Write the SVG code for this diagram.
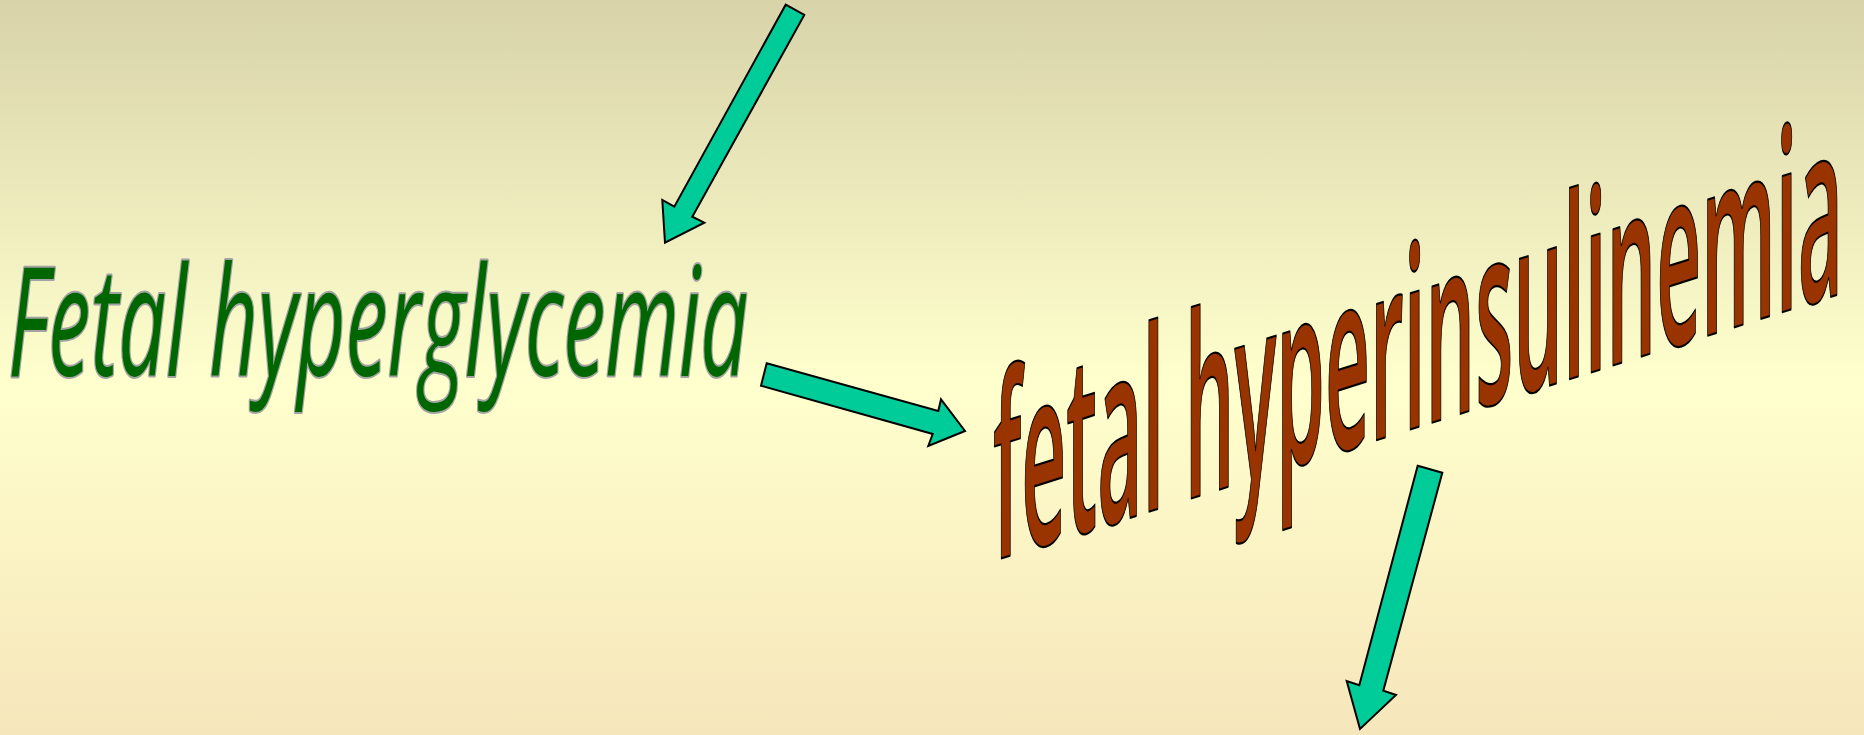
<svg xmlns="http://www.w3.org/2000/svg" width="1864" height="735" viewBox="0 0 1864 735">
  <defs>
    <linearGradient id="bg" x1="0" y1="0" x2="0" y2="1">
      <stop offset="0" stop-color="#d8d3a9"/>
      <stop offset="0.52" stop-color="#ffffcd"/>
      <stop offset="1" stop-color="#f6e6bb"/>
    </linearGradient>
  </defs>
  <style>
    .arrow { fill: #00cc99; stroke: #000000; stroke-width: 2; stroke-linejoin: miter; }
    .green { font-family: "Open Sans", "DejaVu Sans", sans-serif; font-style: italic; font-weight: 400; fill: #006600; stroke: #a3a3a3; stroke-width: 4; paint-order: stroke; stroke-linejoin: round; }
    .brown { font-family: "Open Sans", "DejaVu Sans", sans-serif; font-weight: 600; fill: #993300; stroke: #000000; stroke-width: 2.2; stroke-linejoin: round; }
  </style>
  <rect x="0" y="0" width="1864" height="735" fill="url(#bg)"/>

  <g id="connectors">
    <polygon class="arrow" points="785.7,4.7 804.3,15 692.3,216.7 704.3,222.7 665,242.7 662.3,200 674.3,206.7"/>
    <polygon class="arrow" points="766.7,363.3 938.3,411 941,399.3 965,431 928.3,446 932.7,434 761,385.7"/>
    <polygon class="arrow" points="1417.7,465.7 1442.3,472.7 1383.3,690.7 1396,695 1360,729 1346.7,681 1359.3,685.3"/>
  </g>

  <g id="fetal-hyperglycemia">
    <text class="green" x="8" y="376" font-size="152" textLength="740" lengthAdjust="spacingAndGlyphs">Fetal hyperglycemia</text>
  </g>

  <g id="fetal-hyperinsulinemia" transform="translate(993,561) skewY(-17.5)">
    <text class="brown" x="0" y="0" font-size="252" textLength="850" lengthAdjust="spacingAndGlyphs">fetal hyperinsulinemia</text>
  </g>
</svg>
